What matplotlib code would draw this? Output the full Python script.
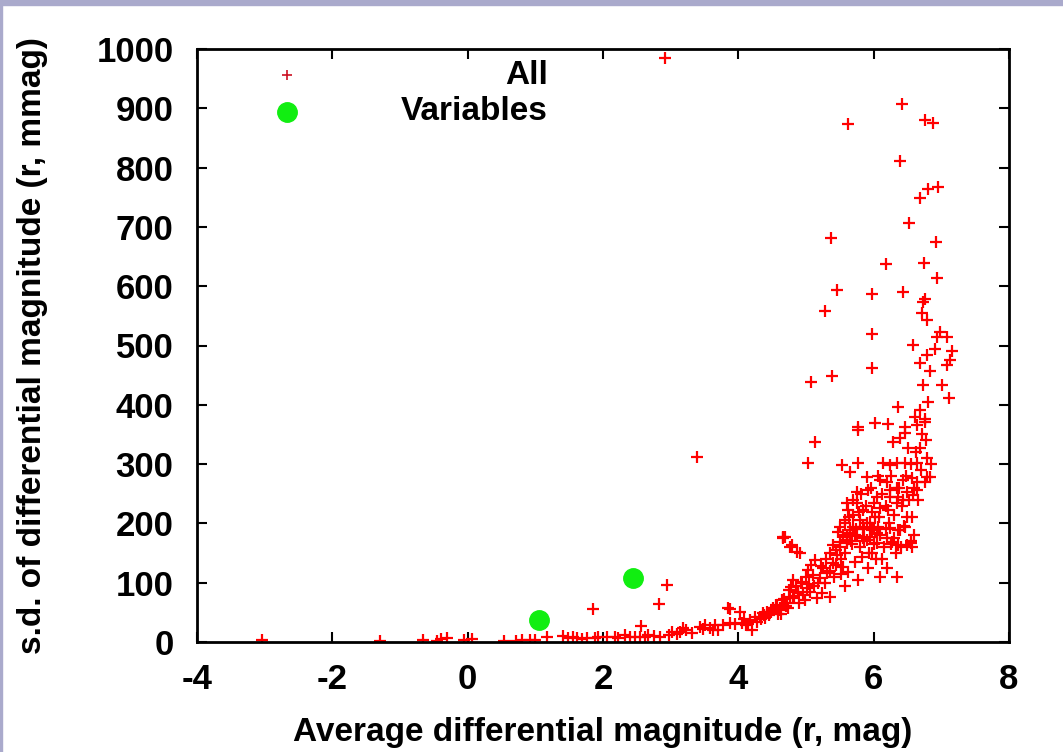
import matplotlib.pyplot as plt
from matplotlib.patches import Rectangle

plt.rcParams['axes.unicode_minus'] = False

# average differential magnitude (r, mag) and s.d. (r, mmag)
all_x = [-3.04, -1.30, -0.66, -0.45, -0.40, -0.31, -0.05, 0.06, 0.54, 0.71,
         0.80, 0.92, 0.99, 1.17, 1.41, 1.48, 1.69, 1.76, 1.85, 1.88,
         1.93, 2.06, 2.18, 2.22, 2.32, 2.47, 2.54, 2.56, 2.66, 2.83,
         2.84, 2.92, 2.95, 3.02, 3.14, 3.18, 3.31, 3.39, 3.43,
         3.51, 3.58, 3.65, 3.70, 3.85, 3.88, 3.88, 4.02, 4.05, 4.12,
         4.17, 4.20, 4.28, 4.32, 4.36, 4.42, 4.50, 4.51, 4.60, 4.62,
         4.66, 4.66, 4.72, 4.76, 4.76, 4.81, 4.81, 4.87, 4.88, 4.88,
         4.91, 4.94, 5.01, 5.03, 5.10, 5.13, 5.16, 5.24, 5.31, 5.35,
         5.40, 5.46, 5.50, 5.55, 5.60, 5.65, 5.69, 5.77, 5.83, 5.90,
         5.98, 6.05,
         4.40, 4.45, 4.55, 4.58, 4.65, 4.70, 4.75, 4.85, 4.95, 5.00,
         5.05, 5.08, 5.20, 5.22, 5.28, 5.35, 5.42, 5.45, 5.52, 5.58,
         5.62, 5.68, 5.72, 5.75, 5.80, 5.86, 5.92, 5.95, 6.00, 6.02,
         6.10, 6.12, 6.18, 6.20, 6.25, 6.30, 6.35, 6.40, 6.45, 6.50,
         6.55, 6.60, 6.09, 6.57, 6.55, 6.39, 6.83,
         5.77, 6.02, 6.21, 6.64, 6.76, 5.13, 5.03, 5.53, 5.65, 5.77,
         5.90, 6.14, 6.24, 6.34, 6.46, 6.64, 6.79, 6.29, 6.39, 6.46,
         6.51, 6.68, 6.09, 6.19, 6.24, 6.34, 6.43, 6.57, 6.64, 6.76,
         6.79, 5.75, 5.92, 6.05, 6.00, 6.24, 6.36, 6.49, 6.58, 6.64,
         5.75, 5.60, 5.62, 5.69, 5.84, 5.98, 6.09, 6.21, 6.34, 6.43,
         6.57, 5.80, 5.84, 5.98, 6.07, 6.24, 6.36, 6.46, 5.50, 5.57,
         5.65, 5.60, 5.72, 5.84, 5.94, 6.05, 6.20, 6.27, 6.36, 5.40,
         5.50, 5.60, 4.69, 4.79,
         5.28, 6.73, 6.71, 6.79, 5.98, 6.98, 7.08, 6.94, 6.58, 6.91,
         7.16, 6.79, 7.13, 6.68, 7.08, 6.83, 5.98, 5.39, 5.07, 6.73,
         7.01, 7.12, 6.80, 6.36, 6.68, 6.61, 6.76, 5.77, 6.46,
         6.42, 5.62, 6.76, 6.88, 6.39, 6.68, 6.80, 6.95, 6.52, 6.92,
         6.18, 6.74, 6.94, 5.98, 6.43, 6.76, 5.37, 5.46,
         5.55, 5.58, 5.63, 5.67, 5.70, 5.74, 5.78, 5.82, 5.85, 5.88,
         5.90, 5.93, 5.96, 6.00, 6.03, 6.06, 6.08, 6.12, 6.15, 6.18,
         6.22, 6.26, 6.30, 6.33, 6.38, 6.42, 6.48, 6.52, 6.55, 6.60,
         6.62, 6.70, 6.72, 6.78, 6.85, 6.66, 6.50, 5.45, 5.48, 5.52,
         5.58, 5.36, 5.30, 5.25, 5.18, 5.12, 5.06, 4.98, 4.92, 4.90,
         4.83, 4.78, 4.73, 4.68, 4.63, 4.57, 4.48, 4.38, 4.33, 4.25,
         4.15, 4.08, 3.95, 3.78, 3.62, 3.48, 3.22, 3.10, 2.98, 2.75,
         2.62, 2.40, 1.62, 1.55]
all_y = [3, 2, 3, 2, 5, 7, 3, 5, 2, 2,
         3, 4, 4, 8, 10, 6, 5, 7, 56, 7,
         8, 8, 8, 6, 12, 8, 8, 27, 12, 64,
         8, 985, 96, 17, 17, 24, 15, 312, 25,
         29, 24, 29, 20, 57, 32, 56, 51, 32, 29,
         37, 20, 34, 42, 49, 51, 54, 57, 54, 57,
         177, 175, 66, 160, 76, 74, 105, 152, 84, 83,
         150, 101, 91, 121, 113, 138, 74, 83, 116, 76,
         133, 147, 160, 126, 172, 184, 194, 105, 143, 172,
         150, 184,
         40, 45, 62, 48, 70, 60, 88, 95, 80, 110,
         98, 130, 108, 128, 100, 120, 110, 155, 140, 150,
         118, 165, 135, 178, 160, 190, 125, 200, 165, 210,
         180, 140, 190, 125, 165, 175, 110, 160, 195, 163,
         170, 180, 110, 160, 167, 189, 278,
         357, 369, 368, 366, 371, 337, 302, 298, 287, 302,
         278, 302, 298, 302, 302, 302, 310, 337, 344, 352,
         327, 327, 273, 270, 256, 260, 273, 277, 270, 270,
         278, 253, 256, 245, 234, 245, 245, 253, 248, 256,
         234, 234, 223, 215, 223, 219, 226, 223, 234, 240,
         211, 206, 194, 189, 194, 192, 189, 194, 194, 206,
         189, 177, 180, 175, 177, 167, 175, 169, 164, 164,
         169, 167, 177, 164,
         558, 573, 555, 543, 519, 523, 514, 514, 501, 494,
         491, 484, 476, 470, 467, 457, 462, 449, 438, 433,
         433, 411, 405, 396, 391, 379, 376, 363, 362,
         907, 874, 880, 875, 811, 749, 764, 767, 707, 675,
         637, 639, 614, 587, 590, 578, 681, 594,
         180, 200, 210, 170, 240, 190, 220, 250, 170, 230,
         200, 150, 260, 190, 140, 280, 210, 250, 160, 230,
         200, 280, 215, 150, 260, 230, 280, 240, 300, 260,
         320, 290, 350, 340, 300, 240, 210, 130, 185, 115,
         95, 150, 140, 125, 100, 95, 85, 70, 100, 65,
         78, 92, 58, 72, 48, 60, 50, 45, 38, 42,
         30, 38, 30, 28, 20, 22, 20, 14, 12, 10,
         9, 8, 6, 9]

var_x = [1.05, 2.44]
var_y = [37, 108]

fig = plt.figure(figsize=(10.63, 7.52), dpi=100)
# lavender window frame at top and left
fig.patches.append(Rectangle((0, 1 - 5 / 752), 1, 5 / 752, transform=fig.transFigure,
                             color='#aaaacc', zorder=0))
fig.patches.append(Rectangle((0, 0), 2 / 1063, 1, transform=fig.transFigure,
                             color='#aaaacc', zorder=0))

ax = fig.add_axes([197 / 1063, 1 - 642 / 752, 812 / 1063, 593 / 752])
ax.plot(all_x, all_y, '+', color='#ff0000', markersize=9, markeredgewidth=1.6)
ax.plot(var_x, var_y, 'o', color='#11ee11', markersize=14)

ax.set_xlim(-4, 8)
ax.set_ylim(0, 1000)
ax.set_xticks(range(-4, 9, 2))
ax.set_yticks(range(0, 1001, 100))

fs = 24
ax.tick_params(direction='in', length=7, width=1.5, top=True, right=True,
               labelsize=25)
ax.tick_params(axis='x', pad=15)
ax.tick_params(axis='y', pad=17)
for s in ax.spines.values():
    s.set_linewidth(2)

ax.set_xlabel('Average differential magnitude (r, mag)', fontsize=fs, va='center')
ax.xaxis.set_label_coords(0.5, (642 - 733) / 593)
ax.set_ylabel('s.d. of differential magnitude (r, mmag)', fontsize=fs, va='center')
ax.yaxis.set_label_coords((33 - 197) / 812, 0.5)

# key: samples on the left, labels right-aligned
ax.plot([0.111], [0.956], '+', color='#cc1122', markersize=7, markeredgewidth=1.2,
        transform=ax.transAxes, clip_on=False)
ax.plot([0.111], [0.894], 'o', color='#11ee11', markersize=14,
        transform=ax.transAxes, clip_on=False)
ax.text(0.432, 0.956, 'All', fontsize=fs, ha='right', va='center', transform=ax.transAxes)
ax.text(0.432, 0.894, 'Variables', fontsize=fs, ha='right', va='center', transform=ax.transAxes)

for t in fig.findobj(match=lambda o: hasattr(o, 'set_fontfamily')):
    t.set_fontfamily('Liberation Sans')
    t.set_fontweight('bold')

fig.savefig('out.png', dpi=100)
